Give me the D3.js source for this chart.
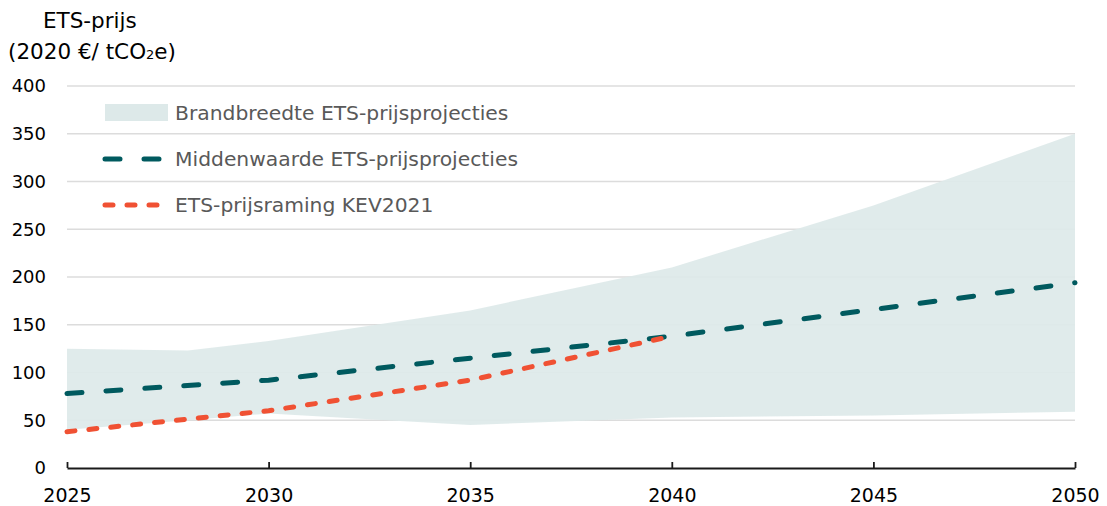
<!DOCTYPE html>
<html>
<head>
<meta charset="utf-8">
<style>
    body { margin: 0; background: #fff; }
    svg { font-family: 'DejaVu Sans', sans-serif; }
</style>
</head>
<body>
<svg width="1107" height="506"></svg>
<script src="https://d3js.org/d3.v7.min.js"></script>
<script>
    // band of ETS price projections (lower / upper)
    let bandYears = [2025, 2028, 2030, 2035, 2040, 2045, 2050]
    let bandLow = [40, 50, 57, 45, 53, 55, 59]
    let bandHigh = [125, 123, 133, 165, 210, 275, 350]

    // middle value of projections
    let midYears = [2025, 2030, 2035, 2040, 2045, 2050]
    let midValues = [78, 92, 115, 138, 166, 194]

    // KEV2021 estimate
    let kevYears = [2025, 2030, 2035, 2040]
    let kevValues = [38, 60, 92, 138]

    let xTicks = [2025, 2030, 2035, 2040, 2045, 2050]
    let yTicks = [0, 50, 100, 150, 200, 250, 300, 350, 400]

    let svg = d3.select('svg')

    let x = d3.scaleLinear().domain([2025, 2050]).range([67, 1075])
    let y = d3.scaleLinear().domain([0, 400]).range([468, 86])

    // gridlines
    svg.append('g')
        .selectAll('line')
        .data(yTicks.filter(d => d > 0))
        .join('line')
        .attr('x1', x(2025))
        .attr('x2', x(2050))
        .attr('y1', d => y(d))
        .attr('y2', d => y(d))
        .attr('stroke', '#dcdcdc')
        .attr('stroke-width', 1.5)

    // band
    let band = bandYears.map((d, i) => ({ year: d, lo: bandLow[i], hi: bandHigh[i] }))
    let area = d3.area().x(d => x(d.year)).y0(d => y(d.lo)).y1(d => y(d.hi))
    svg.append('path')
        .datum(band)
        .attr('d', area)
        .attr('fill', '#dde9e9')
        .attr('fill-opacity', 0.92)

    let line = d3.line().x(d => x(d[0])).y(d => y(d[1]))

    svg.append('path')
        .datum(midYears.map((d, i) => [d, midValues[i]]))
        .attr('d', line)
        .attr('fill', 'none')
        .attr('stroke', '#005a5f')
        .attr('stroke-width', 5)
        .attr('stroke-linecap', 'round')
        .attr('stroke-dasharray', '15,24')

    svg.append('path')
        .datum(kevYears.map((d, i) => [d, kevValues[i]]))
        .attr('d', line)
        .attr('fill', 'none')
        .attr('stroke', '#f05133')
        .attr('stroke-width', 5)
        .attr('stroke-linecap', 'round')
        .attr('stroke-dasharray', '8,14')

    // x axis
    let xAxis = svg.append('g')
        .attr('transform', `translate(0,${y(0)})`)
        .call(d3.axisBottom(x).tickValues(xTicks).tickFormat(d3.format('d')).tickSizeInner(-6).tickSizeOuter(0).tickPadding(21))
    xAxis.select('.domain').attr('stroke', '#1a1a1a').attr('stroke-width', 1.8)
    xAxis.selectAll('.tick line').attr('stroke', '#1a1a1a').attr('stroke-width', 1.8)
    xAxis.selectAll('.tick text')
        .attr('font-family', 'DejaVu Sans, sans-serif')
        .attr('font-size', 19)
        .attr('fill', '#000')

    // y labels
    svg.append('g')
        .selectAll('text')
        .data(yTicks)
        .join('text')
        .attr('x', 46)
        .attr('y', d => y(d))
        .attr('dy', '0.35em')
        .attr('text-anchor', 'end')
        .attr('font-size', 18)
        .attr('fill', '#000')
        .text(d => d)

    // title
    svg.append('text')
        .attr('x', 43).attr('y', 28)
        .attr('font-size', 21.5)
        .text('ETS-prijs')
    let t2 = svg.append('text')
        .attr('x', 8).attr('y', 59)
        .attr('font-size', 21.5)
    t2.append('tspan').text('(2020 €/ tCO')
    t2.append('tspan').attr('font-size', 13).text('2')
    t2.append('tspan').text('e)')

    // legend
    let legend = svg.append('g')
    legend.append('rect')
        .attr('x', 105).attr('y', 104).attr('width', 63).attr('height', 17)
        .attr('fill', '#dde9e9')
    legend.append('line')
        .attr('x1', 105).attr('x2', 163).attr('y1', 159).attr('y2', 159)
        .attr('stroke', '#005a5f').attr('stroke-width', 5)
        .attr('stroke-linecap', 'round').attr('stroke-dasharray', '15,24')
    legend.append('line')
        .attr('x1', 105).attr('x2', 163).attr('y1', 205).attr('y2', 205)
        .attr('stroke', '#f05133').attr('stroke-width', 5)
        .attr('stroke-linecap', 'round').attr('stroke-dasharray', '8,14')

    let legendLabels = ['Brandbreedte ETS-prijsprojecties', 'Middenwaarde ETS-prijsprojecties', 'ETS-prijsraming KEV2021']
    legend.selectAll('text.lab')
        .data(legendLabels)
        .join('text')
        .attr('class', 'lab')
        .attr('x', 175)
        .attr('y', (d, i) => 113 + i * 46)
        .attr('dy', '0.35em')
        .attr('font-size', 20.3)
        .attr('fill', '#595959')
        .text(d => d)
</script>
</body>
</html>
